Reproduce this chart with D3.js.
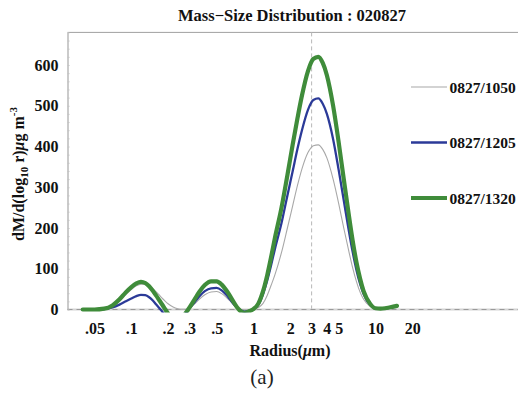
<!DOCTYPE html>
<html>
<head>
<meta charset="utf-8">
<script src="https://cdn.jsdelivr.net/npm/d3@7"></script>
<style>
html,body{margin:0;padding:0;background:#fff;}
svg{display:block;}
text{font-family:"Liberation Serif","Times New Roman",serif;}
</style>
</head>
<body>
<svg id="chart" width="518" height="394"></svg>
<script>
// ---- data ----
const radii = [0.04,0.05,0.06,0.07,0.08,0.09,0.10,0.11,0.12,0.13,0.14,0.15,0.16,0.17,0.18,0.19,0.20,
  0.22,0.24,0.26,0.28,0.30,0.33,0.36,0.40,0.45,0.50,0.55,0.60,0.65,0.70,0.75,0.80,0.85,0.90,0.95,
  1.0,1.1,1.2,1.3,1.4,1.5,1.7,1.9,2.1,2.3,2.5,2.8,3.1,3.4,3.7,4.0,4.5,5.0,5.5,6.0,6.5,7.0,7.5,8.0,9.0,
  10,11,12,13,14,15];
const s1050 = [0,0,2,8,20,36,49,58,62,62,58,51,43,35,27,20,14,
  6,2,0.5,0.5,3,14,25,36,43,44,39,30,20,10,3,0,-1,-1,0,
  1,5,15,35,60,85,140,200,255,305,345,385,402,404,393,372,320,260,200,148,103,68,42,25,8,
  2,1.5,2,3,4,5];
const s1205 = [0,0,1,5,12,20,27,33,36,35,30,22,12,3,-6,-14,-20,
  -26,-26,-20,-9,3,18,32,45,52,53,47,36,23,11,2,-3,-5,-4,-2,
  1,12,38,72,110,148,212,280,340,395,440,490,514,518,505,480,418,342,268,200,142,96,62,38,12,
  3,2,3,4,6,8];
const s1320 = [0,0,2,10,25,42,55,64,68,65,57,46,34,22,11,0,-10,
  -25,-30,-24,-8,5,25,43,60,69,69,61,47,31,15,2,-6,-8,-6,-3,
  1,15,45,85,130,175,250,330,405,470,525,585,615,620,605,575,500,410,320,240,170,115,75,45,15,
  3,2,3,5,7,9];
const seriesNames = ["0827/1050","0827/1205","0827/1320"];
const seriesValues = [s1050, s1205, s1320];
const seriesColors = ["#a8a8a8","#2b3a98","#3f8c3a"];
const seriesWidths = [1.1, 2.3, 4.2];
const yTicks = [0,100,200,300,400,500,600];
const xTickValues = [0.05,0.1,0.2,0.3,0.5,1,2,3,4,5,10,20];
const xTickLabels = [".05",".1",".2",".3",".5","1","2","3","4","5","10","20"];
const markerRadius = 3;

// ---- layout ----
const svg = d3.select("#chart");
const L = 67.5, R = 519, T = 32.4, B = 309.5;
const x = d3.scaleLog().domain([0.03,150]).range([L,R]);
const y = d3.scaleLinear().domain([0,680]).range([B,T]);

svg.append("rect").attr("width",518).attr("height",394).attr("fill","#fff");

// frame top
svg.append("line").attr("x1",L).attr("x2",518).attr("y1",T).attr("y2",T)
  .attr("stroke","#a0a0a0").attr("stroke-width",1);

// vertical dashed marker
svg.append("line").attr("x1",x(markerRadius)).attr("x2",x(markerRadius))
  .attr("y1",T).attr("y2",B).attr("stroke","#b8b8b8").attr("stroke-width",1)
  .attr("stroke-dasharray","4,3");

// bottom baseline
svg.append("line").attr("x1",L).attr("x2",518).attr("y1",B).attr("y2",B)
  .attr("stroke","#d4d4d4").attr("stroke-width",2);
svg.append("line").attr("x1",L).attr("x2",518).attr("y1",B).attr("y2",B)
  .attr("stroke","#9a9a9a").attr("stroke-width",1).attr("stroke-dasharray","5,4");

// y axis
const yAxis = svg.append("g").attr("transform",`translate(${L},0)`)
  .call(d3.axisLeft(y).tickValues(yTicks).tickSize(0).tickPadding(9));
yAxis.select(".domain").attr("stroke","#a8a8a8").attr("stroke-width",1.2);
yAxis.selectAll("text").attr("font-family","Liberation Serif, serif")
  .attr("font-weight","bold").attr("font-size",16).attr("fill","#111");
// minor ticks
const yMinor = svg.append("g").attr("transform",`translate(${L},0)`)
  .call(d3.axisRight(y).tickValues(d3.range(0,681,20)).tickSize(2).tickFormat(""));
yMinor.select(".domain").remove();
yMinor.selectAll("line").attr("stroke","#c4c4c4");

// x axis
const xAxis = svg.append("g").attr("transform",`translate(0,${B})`)
  .call(d3.axisBottom(x).tickValues(xTickValues).tickFormat((d,i)=>xTickLabels[i]).tickSize(0).tickPadding(13));
xAxis.select(".domain").remove();
xAxis.selectAll("text").attr("font-family","Liberation Serif, serif")
  .attr("font-weight","bold").attr("font-size",16).attr("fill","#111");

// clip
svg.append("clipPath").attr("id","clip").append("rect")
  .attr("x",L).attr("y",T).attr("width",R-L).attr("height",B-T+3);

const line = d3.line().x((d,i)=>x(radii[i])).y(d=>y(d)).curve(d3.curveMonotoneX);
const g = svg.append("g").attr("clip-path","url(#clip)");
seriesValues.forEach((vals,k)=>{
  g.append("path").datum(vals).attr("d",line).attr("fill","none")
    .attr("stroke",seriesColors[k]).attr("stroke-width",seriesWidths[k])
    .attr("stroke-linejoin","round").attr("stroke-linecap","round");
});

// legend
const legY = [87, 142.5, 198];
seriesNames.forEach((n,k)=>{
  svg.append("line").attr("x1",411).attr("x2",447).attr("y1",legY[k]).attr("y2",legY[k])
    .attr("stroke",seriesColors[k]).attr("stroke-width",seriesWidths[k]);
  svg.append("text").attr("x",449.5).attr("y",legY[k]+5.5).text(n)
    .attr("font-weight","bold").attr("font-size",15.5).attr("fill","#111");
});

// title
svg.append("text").attr("x",292).attr("y",21).attr("text-anchor","middle")
  .attr("font-weight","bold").attr("font-size",16.5).attr("fill","#111")
  .text("Mass\u2212Size Distribution : 020827");

// x label
const xl = svg.append("text").attr("x",290).attr("y",356).attr("text-anchor","middle")
  .attr("font-weight","bold").attr("font-size",16).attr("fill","#111");
xl.append("tspan").text("Radius(");
xl.append("tspan").attr("font-style","italic").text("\u03bc");
xl.append("tspan").text("m)");

// y label
const yl = svg.append("text").attr("transform","translate(24,174) rotate(-90)")
  .attr("text-anchor","middle").attr("font-weight","bold").attr("font-size",16).attr("fill","#111");
yl.append("tspan").text("dM/d(log");
yl.append("tspan").attr("font-size",11).attr("dy",4).text("10");
yl.append("tspan").attr("dy",-4).text(" r)");
yl.append("tspan").attr("font-style","italic").text("\u03bc");
yl.append("tspan").text("g m");
yl.append("tspan").attr("font-size",11).attr("dy",-7).text("-3");

// caption
svg.append("text").attr("x",262).attr("y",384).attr("text-anchor","middle")
  .attr("font-size",21).attr("fill","#222").text("(a)");
</script>
</body>
</html>
